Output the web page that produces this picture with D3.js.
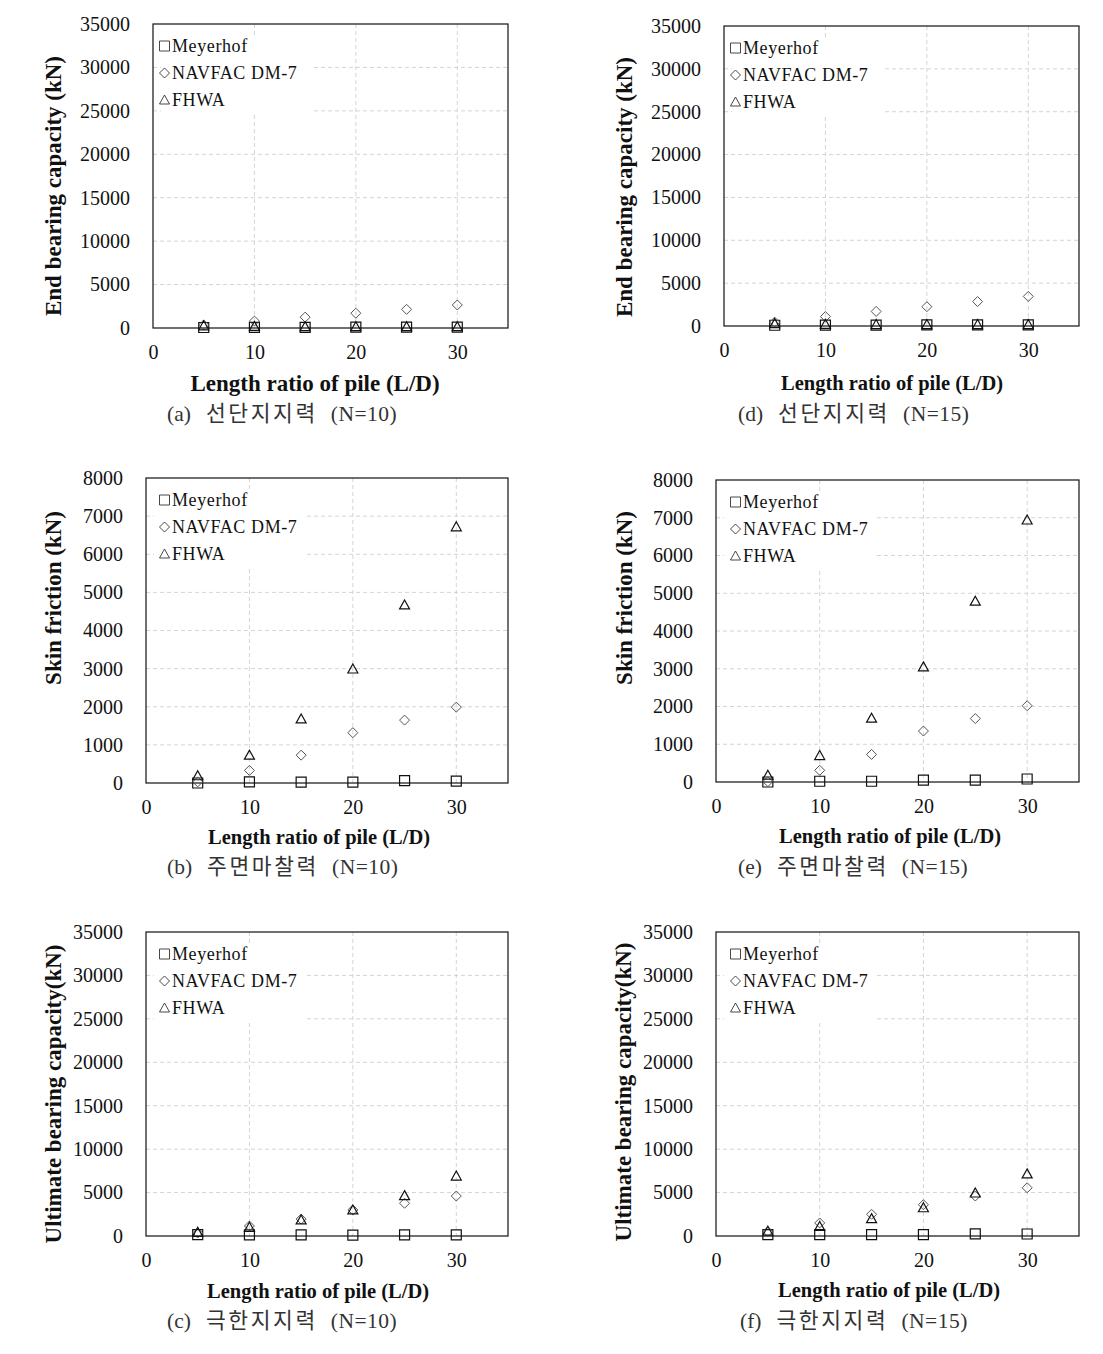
<!DOCTYPE html>
<html><head><meta charset="utf-8">
<script src="https://cdn.jsdelivr.net/npm/d3@7/dist/d3.min.js"></script>
<style>
body{margin:0;background:#fff;}
svg{display:block;}
</style></head>
<body>
<svg id="chart" width="1103" height="1354"></svg>
<script>
// ---------- data ----------
const ldRatio = [5, 10, 15, 20, 25, 30];
const xTicks = [0, 10, 20, 30];
const seriesNames = ["Meyerhof", "NAVFAC DM-7", "FHWA"];

const endMeyerhofN10 = [60, 70, 80, 90, 100, 110];
const endNavfacN10   = [350, 800, 1250, 1700, 2150, 2650];
const endFhwaN10     = [250, 180, 150, 150, 150, 150];

const endMeyerhofN15 = [90, 100, 110, 120, 130, 140];
const endNavfacN15   = [450, 1100, 1700, 2250, 2850, 3450];
const endFhwaN15     = [280, 200, 170, 170, 170, 170];

const skinMeyerhofN10 = [0, 30, 25, 25, 60, 50];
const skinNavfacN10   = [30, 330, 730, 1320, 1650, 1990];
const skinFhwaN10     = [190, 730, 1680, 2990, 4670, 6720];

const skinMeyerhofN15 = [0, 20, 20, 50, 50, 80];
const skinNavfacN15   = [10, 310, 730, 1350, 1680, 2020];
const skinFhwaN15     = [180, 700, 1690, 3050, 4790, 6940];

const ultMeyerhofN10 = [150, 120, 120, 100, 120, 120];
const ultNavfacN10   = [350, 1150, 1950, 3000, 3770, 4600];
const ultFhwaN10     = [420, 1000, 1850, 3000, 4650, 6900];

const ultMeyerhofN15 = [150, 150, 150, 150, 250, 230];
const ultNavfacN15   = [500, 1500, 2500, 3600, 4600, 5550];
const ultFhwaN15     = [550, 1100, 2000, 3250, 4950, 7150];

const ticks35000 = [0, 5000, 10000, 15000, 20000, 25000, 30000, 35000];
const ticks8000  = [0, 1000, 2000, 3000, 4000, 5000, 6000, 7000, 8000];

// ---------- layout ----------
const panels = [
  {box:[153,24,508,328], yTicks:ticks35000, series:[endMeyerhofN10,endNavfacN10,endFhwaN10],
   ylabel:"End bearing capacity (kN)", ylx:53, yly:186, xlSize:23, xlx:315, xly:391,
   cap:["(a)","선단지지력","(N=10)"], cx:167, cy:421, legX:159},
  {box:[724,26,1079,326], yTicks:ticks35000, series:[endMeyerhofN15,endNavfacN15,endFhwaN15],
   ylabel:"End bearing capacity (kN)", ylx:624, yly:187, xlSize:20.5, xlx:892, xly:390,
   cap:["(d)","선단지지력","(N=15)"], cx:738, cy:421, legX:730},
  {box:[146,478,508,783], yTicks:ticks8000, series:[skinMeyerhofN10,skinNavfacN10,skinFhwaN10],
   ylabel:"Skin friction (kN)", ylx:53, yly:598, xlSize:20.5, xlx:319, xly:844,
   cap:["(b)","주면마찰력","(N=10)"], cx:167, cy:874, legX:159},
  {box:[716,480,1079,782], yTicks:ticks8000, series:[skinMeyerhofN15,skinNavfacN15,skinFhwaN15],
   ylabel:"Skin friction (kN)", ylx:624, yly:598, xlSize:20.5, xlx:890, xly:843,
   cap:["(e)","주면마찰력","(N=15)"], cx:738, cy:874, legX:730},
  {box:[146,932,508,1236], yTicks:ticks35000, series:[ultMeyerhofN10,ultNavfacN10,ultFhwaN10],
   ylabel:"Ultimate bearing capacity(kN)", ylx:53, yly:1094, xlSize:20.5, xlx:318, xly:1298,
   cap:["(c)","극한지지력","(N=10)"], cx:167, cy:1328, legX:159},
  {box:[716,932,1079,1236], yTicks:ticks35000, series:[ultMeyerhofN15,ultNavfacN15,ultFhwaN15],
   ylabel:"Ultimate bearing capacity(kN)", ylx:623, yly:1092, xlSize:20.5, xlx:889, xly:1297,
   cap:["(f)","극한지지력","(N=15)"], cx:740, cy:1328, legX:730}
];

const svg = d3.select("#chart");
const serif = "'Liberation Serif','Times New Roman',serif";

function markerPath(kind, s) {
  const h = s / 2;
  if (kind === 0) return `M${-h},${-h}H${h}V${h}H${-h}Z`;
  if (kind === 1) return `M0,${-h}L${h},0L0,${h}L${-h},0Z`;
  return `M0,${-h}L${h},${h*0.8}L${-h},${h*0.8}Z`;
}
const markerStroke = ["#111", "#555", "#111"];

panels.forEach(p => {
  const [x0, y0, x1, y1] = p.box;
  const yMax = p.yTicks[p.yTicks.length - 1];
  const x = d3.scaleLinear().domain([0, 35]).range([x0, x1]);
  const y = d3.scaleLinear().domain([0, yMax]).range([y1, y0]);
  const g = svg.append("g");

  // grid
  const grid = g.append("g").attr("stroke", "#d4d4d4").attr("stroke-width", 1).attr("stroke-dasharray", "4,3");
  p.yTicks.filter(t => t > 0 && t < yMax).forEach(t => {
    grid.append("line").attr("x1", x0).attr("x2", x1).attr("y1", y(t)).attr("y2", y(t));
  });
  xTicks.filter(t => t > 0).forEach(t => {
    grid.append("line").attr("x1", x(t)).attr("x2", x(t)).attr("y1", y0).attr("y2", y1);
  });

  // legend background (covers grid)
  g.append("rect").attr("x", x0 + 8).attr("y", y0 + 13).attr("width", 152).attr("height", 78).attr("fill", "#fff");

  // border
  g.append("rect").attr("x", x0).attr("y", y0).attr("width", x1 - x0).attr("height", y1 - y0)
    .attr("fill", "none").attr("stroke", "#111").attr("stroke-width", 1.2);

  // axes
  const ya = g.append("g").attr("transform", `translate(${x0},0)`)
    .call(d3.axisLeft(y).tickValues(p.yTicks).tickSize(0).tickPadding(23).tickFormat(d3.format("d")));
  ya.select(".domain").remove();
  ya.selectAll("text").attr("font-family", serif).attr("font-size", 20).attr("fill", "#111");

  const xa = g.append("g").attr("transform", `translate(0,${y1})`)
    .call(d3.axisBottom(x).tickValues(xTicks).tickSize(0).tickPadding(17).tickFormat(d3.format("d")));
  xa.select(".domain").remove();
  xa.selectAll("text").attr("font-family", serif).attr("font-size", 20).attr("fill", "#111");

  // markers
  p.series.forEach((vals, k) => {
    g.append("g").selectAll("path").data(vals).join("path")
      .attr("d", markerPath(k, 10))
      .attr("transform", (v, i) => `translate(${x(ldRatio[i])},${y(v)})`)
      .attr("fill", "none").attr("stroke", markerStroke[k]).attr("stroke-width", k === 1 ? 1 : 1.2);
  });

  // legend
  seriesNames.forEach((name, k) => {
    const by = y0 + 28 + k * 27;
    g.append("path").attr("d", markerPath(k, 10))
      .attr("transform", `translate(${p.legX + 5.5},${by - 6})`)
      .attr("fill", "none").attr("stroke", "#333").attr("stroke-width", 0.9);
    g.append("text").attr("x", p.legX + 13).attr("y", by).text(name)
      .attr("font-family", serif).attr("font-size", 18).attr("letter-spacing", 0.6).attr("fill", "#111");
  });

  // axis titles
  g.append("text").attr("transform", `translate(${p.ylx},${p.yly}) rotate(-90)`)
    .attr("text-anchor", "middle").attr("dominant-baseline", "central")
    .attr("font-family", serif).attr("font-weight", "bold").attr("font-size", 23).attr("fill", "#111")
    .text(p.ylabel);
  g.append("text").attr("x", p.xlx).attr("y", p.xly).attr("text-anchor", "middle")
    .attr("font-family", serif).attr("font-weight", "bold").attr("font-size", p.xlSize).attr("fill", "#111")
    .text("Length ratio of pile (L/D)");

  // caption
  const cap = g.append("text").attr("x", p.cx).attr("y", p.cy)
    .attr("font-family", "'Liberation Serif','Noto Sans CJK KR',serif").attr("font-size", 21.5)
    .attr("fill", "#333");
  cap.append("tspan").text(p.cap[0]);
  cap.append("tspan").attr("dx", 15).attr("letter-spacing", 2.6).text(p.cap[1]);
  cap.append("tspan").attr("dx", 13).attr("letter-spacing", 0.5).text(p.cap[2]);
});
</script>
</body></html>
